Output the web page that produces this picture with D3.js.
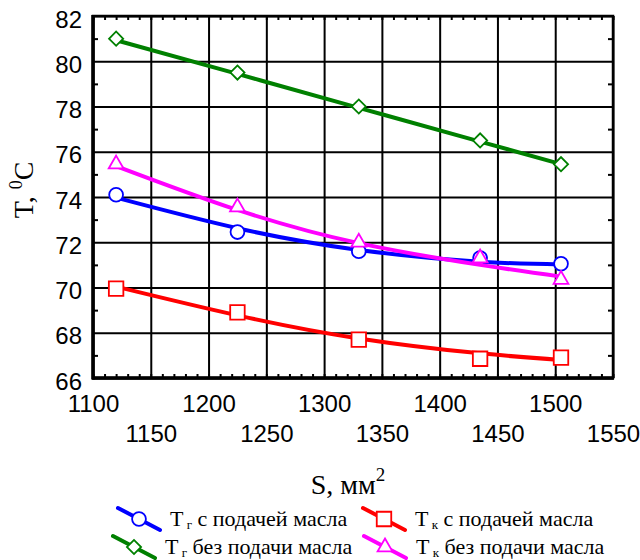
<!DOCTYPE html>
<html>
<head>
<meta charset="utf-8">
<script src="https://cdn.jsdelivr.net/npm/d3@7"></script>
<style>
  html, body { margin: 0; padding: 0; background: #fff; }
  svg { display: block; }
  .num text { font-family: "Liberation Sans", Arial, sans-serif; font-size: 24px; fill: #000; }
  .serif { font-family: "Liberation Serif", "Times New Roman", serif; fill: #000; }
</style>
</head>
<body>
<svg id="chart" width="640" height="560"></svg>
<script>
// Contact area S (mm^2) at which temperatures were measured
const areas = [1120, 1225, 1330, 1435, 1505];

// Measured temperatures, °C
const tgOil   = [74.1, 72.45, 71.6, 71.3, 71.05];   // Tг с подачей масла
const tkOil   = [69.95, 68.9, 67.7, 66.85, 66.9];   // Tк с подачей масла
const tgNoOil = [81.0, 79.5, 78.0, 76.5, 75.45];    // Tг без подачи масла
const tkNoOil = [75.45, 73.55, 72.0, 71.3, 70.35];  // Tк без подачи масла

// Approximating (trend) curves at the same areas
const tgOilFit   = [73.97, 72.62, 71.66, 71.14, 71.02];
const tkOilFit   = [70.04, 68.77, 67.75, 67.09, 66.8];
const tgNoOilFit = [80.93, 79.44, 77.94, 76.45, 75.45];
const tkNoOilFit = [75.37, 73.43, 71.96, 71.0, 70.48];

// Axis ticks
const xTicksRow1 = [1100, 1200, 1300, 1400, 1500];
const xTicksRow2 = [1150, 1250, 1350, 1450, 1550];
const xMajor = [1100, 1150, 1200, 1250, 1300, 1350, 1400, 1450, 1500, 1550];
const xMinor = d3.range(1100, 1551, 10);
const yMajor = [66, 68, 70, 72, 74, 76, 78, 80, 82];
const yMinor = [67, 69, 71, 73, 75, 77, 79, 81];

const series = [
  { name: "г", tail: " с подачей масла",  vals: tgOil,   fit: tgOilFit,   color: "#0000ff", shape: "circle" },
  { name: "к", tail: " с подачей масла",  vals: tkOil,   fit: tkOilFit,   color: "#ff0000", shape: "square" },
  { name: "г", tail: " без подачи масла", vals: tgNoOil, fit: tgNoOilFit, color: "#008000", shape: "diamond" },
  { name: "к", tail: " без подачи масла", vals: tkNoOil, fit: tkNoOilFit, color: "#ff00ff", shape: "triangle" }
];

const svg = d3.select("#chart");
const L = 93, R = 613, T = 16, B = 378;
const x = d3.scaleLinear().domain([1100, 1550]).range([L, R]);
const y = d3.scaleLinear().domain([66, 82]).range([B, T]);
const fmt = d3.format("d");

// grid
svg.append("g").attr("transform", `translate(0,${B})`)
  .call(d3.axisBottom(x).tickValues(xMajor).tickSize(-(B - T)).tickFormat(""))
  .call(g => g.select(".domain").remove())
  .call(g => g.selectAll("line").attr("stroke", "#000").attr("stroke-width", 2));
svg.append("g").attr("transform", `translate(${L},0)`)
  .call(d3.axisLeft(y).tickValues(yMajor).tickSize(-(R - L)).tickFormat(""))
  .call(g => g.select(".domain").remove())
  .call(g => g.selectAll("line").attr("stroke", "#000").attr("stroke-width", 2));

// minor ticks, pointing inward
function minor(axis, tx, ty) {
  svg.append("g").attr("transform", `translate(${tx},${ty})`)
    .call(axis)
    .call(g => g.select(".domain").remove())
    .call(g => g.selectAll("line").attr("stroke", "#000").attr("stroke-width", 2));
}
minor(d3.axisLeft(y).tickValues(yMinor).tickSize(-5).tickFormat(""), L, 0);
minor(d3.axisRight(y).tickValues(yMinor).tickSize(-5).tickFormat(""), R, 0);
minor(d3.axisBottom(x).tickValues(xMinor).tickSize(-4).tickFormat(""), 0, B);
minor(d3.axisTop(x).tickValues(xMinor).tickSize(-4).tickFormat(""), 0, T);

// frame
svg.append("rect").attr("x", L).attr("y", T).attr("width", R - L).attr("height", B - T)
  .attr("fill", "none").attr("stroke", "#000").attr("stroke-width", 2.5);
svg.append("line").attr("x1", L).attr("x2", L).attr("y1", T - 1).attr("y2", B + 1.5)
  .attr("stroke", "#000").attr("stroke-width", 3.5);
svg.append("line").attr("x1", L - 1).attr("x2", R + 1).attr("y1", B).attr("y2", B)
  .attr("stroke", "#000").attr("stroke-width", 3.5);

// tick labels
svg.append("g").attr("class", "num").attr("transform", `translate(${L},0)`)
  .call(d3.axisLeft(y).tickValues(yMajor).tickSize(0).tickPadding(11).tickFormat(fmt))
  .call(g => g.select(".domain").remove())
  .call(g => g.selectAll("text").attr("dy", 11));
svg.append("g").attr("class", "num").attr("transform", `translate(0,${B})`)
  .call(d3.axisBottom(x).tickValues(xTicksRow1).tickSize(0).tickFormat(fmt))
  .call(g => g.select(".domain").remove())
  .call(g => g.selectAll("text").attr("y", 34).attr("dy", 0));
svg.append("g").attr("class", "num").attr("transform", `translate(0,${B})`)
  .call(d3.axisBottom(x).tickValues(xTicksRow2).tickSize(0).tickFormat(fmt))
  .call(g => g.select(".domain").remove())
  .call(g => g.selectAll("text").attr("y", 64).attr("dy", 0));

// axis titles
const yt = svg.append("text").attr("class", "serif")
  .attr("transform", "translate(33,190) rotate(-90)")
  .attr("text-anchor", "middle").attr("font-size", 28);
yt.append("tspan").text("T, ");
yt.append("tspan").attr("font-size", 18).attr("dy", -11).text("0");
yt.append("tspan").attr("dy", 11).text("C");

const xt = svg.append("text").attr("class", "serif")
  .attr("x", 348).attr("y", 494).attr("text-anchor", "middle").attr("font-size", 28);
xt.append("tspan").text("S, мм");
xt.append("tspan").attr("font-size", 19).attr("dy", -13).text("2");

// markers
function marker(g, shape, color, cx, cy) {
  const sym = {
    circle:   d3.symbol(d3.symbolCircle, 150),
    square:   d3.symbol(d3.symbolSquare, 210),
    diamond:  d3.symbol(d3.symbolSquare, 100),
    triangle: d3.symbol(d3.symbolTriangle, 95)
  }[shape];
  let rot = shape === "diamond" ? " rotate(45)" : "";
  g.append("path").attr("d", sym())
    .attr("transform", `translate(${cx},${cy})${rot}`)
    .attr("fill", "#fff").attr("stroke", color).attr("stroke-width", 1.8);
}

const line = d3.line().x((d, i) => x(areas[i])).y(d => y(d)).curve(d3.curveNatural);
series.forEach(s => {
  const g = svg.append("g");
  g.append("path").datum(s.fit).attr("d", line)
    .attr("fill", "none").attr("stroke", s.color).attr("stroke-width", 4).attr("stroke-linecap", "round");
  s.vals.forEach((v, i) => marker(g, s.shape, s.color, x(areas[i]), y(v)));
});

// legend
const legPos = [[118, 519], [363, 519], [113, 547], [364, 547]];
series.forEach((s, i) => {
  const [lx, ly] = legPos[i];
  const g = svg.append("g");
  g.append("line").attr("x1", lx).attr("y1", ly - 11).attr("x2", lx + 42).attr("y2", ly + 11)
    .attr("stroke", s.color).attr("stroke-width", 4).attr("stroke-linecap", "round");
  marker(g, s.shape, s.color, lx + 21, ly);
  const t = g.append("text").attr("class", "serif").attr("x", lx + 52).attr("y", ly + 7).attr("font-size", 22);
  t.append("tspan").text("Т");
  t.append("tspan").attr("font-size", 13).attr("dy", 3).text(" " + s.name);
  t.append("tspan").attr("dy", -3).text(s.tail);
});
</script>
</body>
</html>
